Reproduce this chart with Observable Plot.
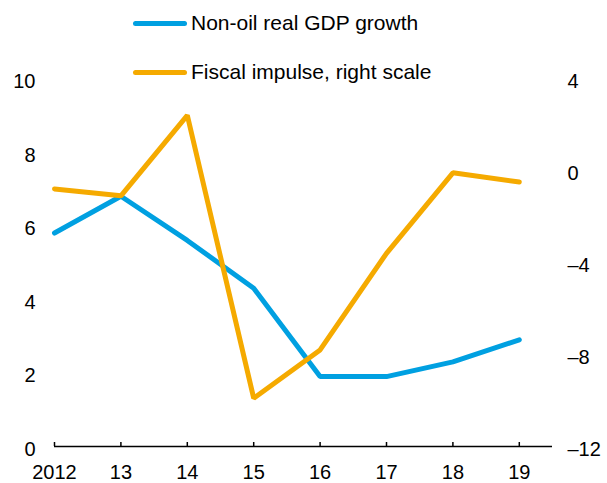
<!DOCTYPE html>
<html>
<head>
<meta charset="utf-8">
<script src="https://cdn.jsdelivr.net/npm/d3@7"></script>
<script src="https://cdn.jsdelivr.net/npm/@observablehq/plot@0.6"></script>
<style>
  html, body { margin: 0; padding: 0; background: #fff; }
  #wrap { position: relative; width: 607px; height: 483px; overflow: hidden; font-family: "Liberation Sans", Arial, sans-serif; }
  .leg-line { position: absolute; height: 5px; border-radius: 3px; }
  .leg-text { position: absolute; font-size: 21px; line-height: 24px; color: #000; white-space: nowrap; }
</style>
</head>
<body>
<div id="wrap"></div>
<script>
const years = [2012, 2013, 2014, 2015, 2016, 2017, 2018, 2019];
const yearLabels = ["2012", "13", "14", "15", "16", "17", "18", "19"];
const gdpGrowth = [5.8, 6.8, 5.6, 4.3, 1.9, 1.9, 2.3, 2.9];
const fiscalImpulse = [-0.8, -1.1, 2.4, -9.9, -7.8, -3.6, -0.1, -0.5];
const leftTicks = [0, 2, 4, 6, 8, 10];
const rightTicks = [-12, -8, -4, 0, 4];
const seriesNames = ["Non-oil real GDP growth", "Fiscal impulse, right scale"];
const colors = ["#00a0e1", "#f5aa00"];

// right scale [-12, 4] mapped onto left scale [0, 10]
const toLeft = f => (f + 12) * 10 / 16;
const fromLeft = v => v * 16 / 10 - 12;
const fmt = v => { const r = Math.round(v); return r < 0 ? "\u2013" + Math.abs(r) : String(r); };

const gdpRows = years.map((yr, i) => ({year: yr, v: gdpGrowth[i]}));
const fisRows = years.map((yr, i) => ({year: yr, v: toLeft(fiscalImpulse[i])}));

const chart = Plot.plot({
  width: 607,
  height: 483,
  marginLeft: 54,
  marginRight: 55,
  marginTop: 78,
  marginBottom: 37,
  style: {fontFamily: '"Liberation Sans", Arial, sans-serif', fontSize: "20px", color: "#000", background: "#fff"},
  x: {domain: [2012, 2019.5], axis: null},
  y: {domain: [0, 10], axis: null},
  marks: [
    Plot.ruleY([0], {stroke: "#000", strokeWidth: 1.5}),
    Plot.axisX({ticks: years, tickSize: -4, tickFormat: () => "", strokeWidth: 1.5, label: null}),
    Plot.axisX({ticks: years, tickSize: 0, tickPadding: 18, tickFormat: (d) => yearLabels[years.indexOf(d)], fontSize: 20, label: null}),
    Plot.axisY({anchor: "left", ticks: leftTicks, tickSize: 0, tickPadding: 19, dy: 3, fontSize: 20, tickFormat: fmt, label: null}),
    Plot.axisY({anchor: "right", ticks: rightTicks.map(toLeft), tickSize: 0, tickPadding: 15, dy: 3, fontSize: 20, tickFormat: v => fmt(fromLeft(v)), label: null}),
    Plot.line(gdpRows, {x: "year", y: "v", stroke: colors[0], strokeWidth: 5, strokeLinecap: "round", strokeLinejoin: "miter"}),
    Plot.line(fisRows, {x: "year", y: "v", stroke: colors[1], strokeWidth: 5, strokeLinecap: "round", strokeLinejoin: "miter"})
  ]
});

const wrap = document.getElementById("wrap");
wrap.appendChild(chart);

const legendY = [23, 72];
seriesNames.forEach((name, i) => {
  const ln = document.createElement("div");
  ln.className = "leg-line";
  ln.style.left = "133px";
  ln.style.width = "54px";
  ln.style.top = (legendY[i] - 2.5) + "px";
  ln.style.background = colors[i];
  wrap.appendChild(ln);
  const tx = document.createElement("div");
  tx.className = "leg-text";
  tx.style.left = "191px";
  tx.style.top = (legendY[i] - 12) + "px";
  tx.textContent = name;
  wrap.appendChild(tx);
});
</script>
</body>
</html>
